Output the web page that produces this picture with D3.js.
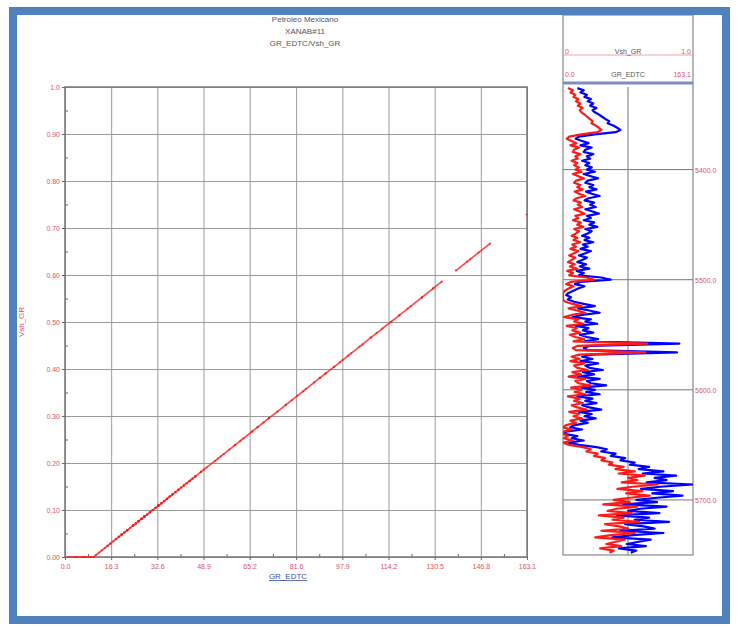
<!DOCTYPE html>
<html><head><meta charset="utf-8">
<script src="https://cdn.jsdelivr.net/npm/d3@7"></script>
<style>body{margin:0;background:#fff}svg{display:block}text{font-family:"Liberation Sans",Arial,sans-serif}</style>
</head><body><svg id="c" width="738" height="627"></svg>
<script>
const titleLines = ["Petroleo Mexicano", "XANAB#11", "GR_EDTC/Vsh_GR"];
const xTicks = [0.0, 16.3, 32.6, 48.9, 65.2, 81.6, 97.9, 114.2, 130.5, 146.8, 163.1];
const xTickLabels = ["0.0","16.3","32.6","48.9","65.2","81.6","97.9","114.2","130.5","146.8","163.1"];
const yTicks = [0,0.1,0.2,0.3,0.4,0.5,0.6,0.7,0.8,0.9,1.0];
const yTickLabels = ["0.00","0.10","0.20","0.30","0.40","0.50","0.60","0.70","0.80","0.90","1.0"];
const depthTicks = [5400, 5500, 5600, 5700];
const depthTickLabels = ["5400.0","5500.0","5600.0","5700.0"];
const depthTop = 5326, depthStep = 2;
const grValues = [
 18,26,22,30,27,35,31,38,34,42,37,40,
 45,49,53,58,56,63,68,72,66,
 40,20,16,
 24,32,22,36,28,26,38,30,34,24,33,28,36,
 30,40,26,35,44,31,28,38,33,42,29,36,46,32,27,39,
 34,41,28,37,45,30,35,26,39,33,43,28,36,31,24,
 33,27,38,25,31,22,35,28,20,30,
 24,18,29,21,33,17,26,20,48,60,22,15,27,19,13,
 7,4,10,6,14,
 26,40,19,33,46,24,12,35,28,43,16,32,25,38,21,30,44,27,
 146,34,26,31,143,36,24,
 37,22,44,28,33,50,25,39,19,46,30,35,54,23,40,29,46,18,37,28,42,24,33,48,20,36,27,41,22,31,
 15,9,24,4,1,18,11,26,7,20,
 42,55,48,66,60,78,72,90,84,
 108,95,126,100,142,115,130,105,163,122,98,138,112,150,118,
 92,118,75,130,97,82,121,68,108,90,133,78,101,115,72,126,88,62,110,95,80,104,70,92,85
];
// Vsh_GR linear model parameters (clean / shale GR)
const grClean = 10, grShale = 220;

const data = grValues.map((g,i)=>({
  depth: depthTop + i*depthStep,
  gr: g,
  vsh: Math.max(0, (g-grClean)/(grShale-grClean))
}));

const svg = d3.select("#c");
const red = "#ff1a1a", pink = "#e0506a", blue = "#0000ff";

// ---------- Crossplot ----------
const x = d3.scaleLinear([0,163.1],[65,527]);
const y = d3.scaleLinear([0,1],[557,87]);

svg.append("g").selectAll("text").data(titleLines).join("text")
  .attr("x",305).attr("y",(d,i)=>22+i*12).attr("text-anchor","middle")
  .attr("font-size",8).attr("fill","#555").text(d=>d);

svg.append("g").attr("transform","translate(0,557)")
  .call(d3.axisBottom(x).tickValues(xTicks).tickSize(-470).tickFormat(""))
  .call(g=>{g.select(".domain").remove();g.selectAll("line").attr("stroke","#9a9a9a");});
svg.append("g").attr("transform","translate(65,0)")
  .call(d3.axisLeft(y).tickValues(yTicks).tickSize(-462).tickFormat(""))
  .call(g=>{g.select(".domain").remove();g.selectAll("line").attr("stroke","#9a9a9a");});

const xMinor = xTicks.slice(1).map((v,i)=>(v+xTicks[i])/2);
const yMinor = yTicks.slice(1).map((v,i)=>(v+yTicks[i])/2);
svg.append("g").attr("transform","translate(0,557)")
  .call(d3.axisBottom(x).tickValues(xMinor).tickSize(-3).tickFormat(""))
  .call(g=>{g.select(".domain").remove();g.selectAll("line").attr("stroke","#666");});
svg.append("g").attr("transform","translate(65,0)")
  .call(d3.axisLeft(y).tickValues(yMinor).tickSize(-3).tickFormat(""))
  .call(g=>{g.select(".domain").remove();g.selectAll("line").attr("stroke","#666");});

svg.append("rect").attr("x",65).attr("y",87).attr("width",462).attr("height",470)
  .attr("fill","none").attr("stroke","#777").attr("stroke-width",1.5);

svg.append("g").attr("transform","translate(0,557)")
  .call(d3.axisBottom(x).tickValues(xTicks).tickSize(3).tickPadding(4).tickFormat((d,i)=>xTickLabels[i]))
  .call(g=>{g.select(".domain").remove();g.selectAll("line").attr("stroke","#666");
    g.selectAll("text").attr("fill",pink).attr("font-size",7).attr("font-family","Liberation Sans, Arial");});
svg.append("g").attr("transform","translate(65,0)")
  .call(d3.axisLeft(y).tickValues(yTicks).tickSize(3).tickPadding(2).tickFormat((d,i)=>yTickLabels[i]))
  .call(g=>{g.select(".domain").remove();g.selectAll("line").attr("stroke","#666");
    g.selectAll("text").attr("fill",pink).attr("font-size",7).attr("font-family","Liberation Sans, Arial");});

svg.append("text").attr("x",288).attr("y",579).attr("text-anchor","middle")
  .attr("font-size",8).attr("fill","#3a4fa0").attr("text-decoration","underline").text("GR_EDTC");
svg.append("text").attr("transform","translate(24,322) rotate(-90)").attr("text-anchor","middle")
  .attr("font-size",8).attr("fill",pink).text("Vsh_GR");

// crossplot points, joined where samples are close in GR
const sorted = data.slice().sort((a,b)=>a.gr-b.gr);
const segs = [];
sorted.forEach((d,i)=>{ if(i>0 && d.gr-sorted[i-1].gr<=4) segs.push([sorted[i-1],d]); });
svg.append("g").selectAll("line").data(segs).join("line")
  .attr("x1",s=>x(s[0].gr)).attr("y1",s=>y(s[0].vsh))
  .attr("x2",s=>x(s[1].gr)).attr("y2",s=>y(s[1].vsh))
  .attr("stroke",red).attr("stroke-width",1.6).attr("opacity",0.8);
svg.append("g").selectAll("circle").data(data).join("circle")
  .attr("cx",d=>x(d.gr)).attr("cy",d=>y(d.vsh)).attr("r",1.1).attr("fill",red).attr("opacity",0.8);

// ---------- Log track ----------
const L=563, R=693, T=15, B=555, dataTop=87;
const tGR = d3.scaleLinear([0,163.1],[L,R]);
const tV = d3.scaleLinear([0,1],[L,R]);
const ty = d3.scaleLinear([5325,5750],[dataTop,B]);

svg.append("defs").append("clipPath").attr("id","tc").append("rect")
  .attr("x",L).attr("y",dataTop).attr("width",R-L).attr("height",B-dataTop);

svg.append("rect").attr("x",L).attr("y",T).attr("width",R-L).attr("height",B-T)
  .attr("fill","none").attr("stroke","#888").attr("stroke-width",1.2);

svg.append("line").attr("x1",L).attr("x2",R).attr("y1",55).attr("y2",55).attr("stroke","#f3a0a8").attr("stroke-width",1);
svg.append("text").attr("x",L+2).attr("y",54).attr("font-size",7).attr("fill",pink).text("0");
svg.append("text").attr("x",R-2).attr("y",54).attr("text-anchor","end").attr("font-size",7).attr("fill",pink).text("1.0");
svg.append("text").attr("x",(L+R)/2).attr("y",54).attr("text-anchor","middle").attr("font-size",7).attr("fill","#555").text("Vsh_GR");
svg.append("text").attr("x",L+2).attr("y",77).attr("font-size",7).attr("fill",pink).text("0.0");
svg.append("text").attr("x",R-2).attr("y",77).attr("text-anchor","end").attr("font-size",7).attr("fill",pink).text("163.1");
svg.append("text").attr("x",(L+R)/2).attr("y",77).attr("text-anchor","middle").attr("font-size",7).attr("fill","#555").text("GR_EDTC");
svg.append("line").attr("x1",L).attr("x2",R).attr("y1",83).attr("y2",83).attr("stroke","#7f8cc0").attr("stroke-width",3);

svg.append("line").attr("x1",(L+R)/2).attr("x2",(L+R)/2).attr("y1",dataTop).attr("y2",B).attr("stroke","#777");
svg.append("g").selectAll("line").data(depthTicks).join("line")
  .attr("x1",L).attr("x2",R).attr("y1",d=>ty(d)).attr("y2",d=>ty(d)).attr("stroke","#777");
svg.append("g").selectAll("text").data(depthTicks).join("text")
  .attr("x",R+2).attr("y",d=>ty(d)+3).attr("font-size",7).attr("fill",pink).text((d,i)=>depthTickLabels[i]);

const cg = svg.append("g").attr("clip-path","url(#tc)");
cg.append("path").datum(data).attr("fill","none").attr("stroke",blue).attr("stroke-width",2.2)
  .attr("stroke-linejoin","round")
  .attr("d",d3.line().x(d=>tGR(d.gr)).y(d=>ty(d.depth)));
cg.append("path").datum(data).attr("fill","none").attr("stroke",red).attr("stroke-width",2.2)
  .attr("stroke-linejoin","round")
  .attr("d",d3.line().x(d=>tV(d.vsh)).y(d=>ty(d.depth)));

svg.append("rect").attr("x",13).attr("y",11).attr("width",713).attr("height",609)
  .attr("fill","none").attr("stroke","#4f81bd").attr("stroke-width",8);
</script></body></html>
